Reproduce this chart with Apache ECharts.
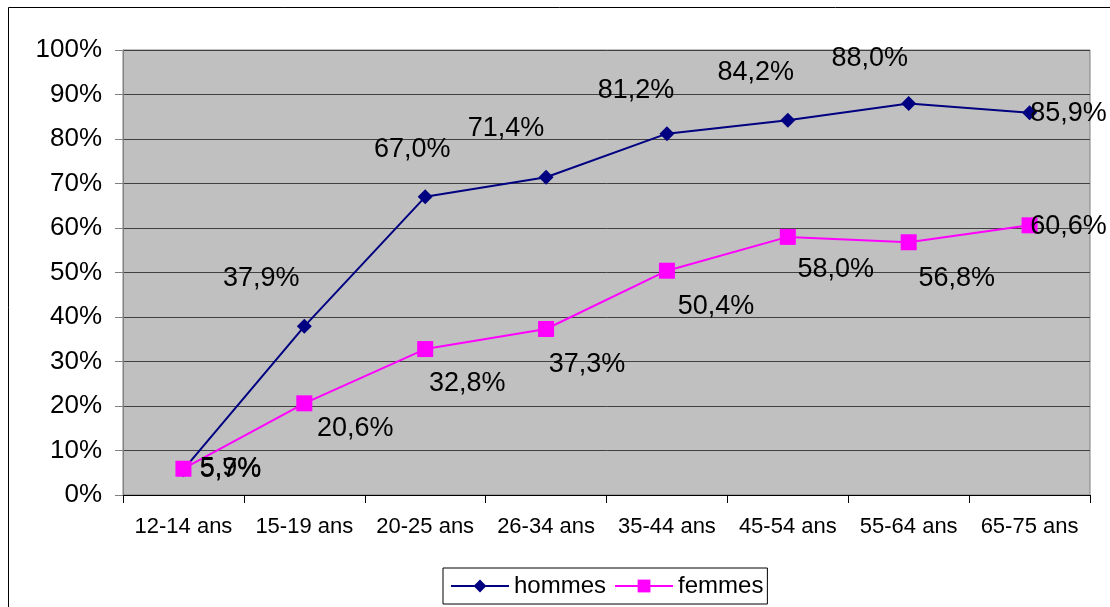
<!DOCTYPE html>
<html>
<head>
<meta charset="utf-8">
<script src="https://cdn.jsdelivr.net/npm/echarts@6/dist/echarts.min.js"></script>
<style>html,body{margin:0;padding:0;background:#fff;}#c{width:1110px;height:607px;}</style>
</head>
<body>
<div id="c"></div>
<script>
const categories = ['12-14 ans','15-19 ans','20-25 ans','26-34 ans','35-44 ans','45-54 ans','55-64 ans','65-75 ans'];
const hommes = [5.7, 37.9, 67.0, 71.4, 81.2, 84.2, 88.0, 85.9];
const femmes = [5.9, 20.6, 32.8, 37.3, 50.4, 58.0, 56.8, 60.6];
const yTicks = [0,10,20,30,40,50,60,70,80,90,100];

// label placement (offsets of label centre from the point, px)
const hommesLabelOffsets = [[47,0],[-43,-48],[-13,-47],[-40,-49],[-31,-43],[-32,-48],[-39,-45],[39,1]];
const femmesLabelOffsets = [[47,0],[51,25],[42,35],[41,36],[49,36],[48,33],[48,36],[39,1]];

const fmt = v => v.toFixed(1).replace('.', ',') + '%';
const FONT = '"Liberation Sans", Arial, sans-serif';

function build(values, offsets) {
  return values.map((v, i) => ({
    value: v,
    label: { offset: offsets[i] }
  }));
}

const chart = echarts.init(document.getElementById('c'), null, {renderer: 'canvas'});
chart.setOption({
  animation: false,
  backgroundColor: '#ffffff',
  textStyle: { fontFamily: FONT },
  graphic: [{
    type: 'rect', z: 100, silent: true,
    shape: { x: 8.5, y: 7.5, width: 1200, height: 700 },
    style: { fill: 'none', stroke: '#000', lineWidth: 1 }
  }],
  grid: {
    left: 123, right: 20, top: 50, bottom: 112,
    show: true, backgroundColor: '#C0C0C0', borderColor: '#808080', borderWidth: 1
  },
  legend: {
    left: 443, top: 568,
    padding: [6, 4, 6, 7],
    borderColor: '#000', borderWidth: 1,
    itemWidth: 58, itemHeight: 16, itemGap: 8,
    textStyle: { fontSize: 24, color: '#000', fontFamily: FONT },
    data: ['hommes', 'femmes']
  },
  xAxis: {
    type: 'category',
    data: categories,
    boundaryGap: true,
    axisLine: { show: true, lineStyle: { color: '#000', width: 1 } },
    axisTick: { show: true, interval: 0, length: 8, lineStyle: { color: '#000' } },
    axisLabel: { interval: 0, margin: 21, fontSize: 22, color: '#000', fontFamily: FONT },
    splitLine: { show: false }
  },
  yAxis: {
    type: 'value',
    min: yTicks[0], max: yTicks[yTicks.length - 1], interval: 10,
    axisLine: { show: true, lineStyle: { color: '#808080', width: 1 } },
    axisTick: { show: true, length: 8, lineStyle: { color: '#808080' } },
    axisLabel: { margin: 21, fontSize: 26, color: '#000', fontFamily: FONT, formatter: '{value}%' },
    splitLine: { show: true, lineStyle: { color: '#404040', width: 1 } }
  },
  series: [
    {
      name: 'hommes', type: 'line',
      data: build(hommes, hommesLabelOffsets),
      symbol: 'diamond', symbolSize: 15,
      lineStyle: { color: '#000080', width: 2 },
      itemStyle: { color: '#000080' },
      label: { show: true, position: 'inside', fontSize: 27, color: '#000', fontFamily: FONT,
        formatter: p => fmt(p.value) },
      z: 2
    },
    {
      name: 'femmes', type: 'line',
      data: build(femmes, femmesLabelOffsets),
      symbol: 'rect', symbolSize: 16,
      lineStyle: { color: '#FF00FF', width: 2 },
      itemStyle: { color: '#FF00FF' },
      label: { show: true, position: 'inside', fontSize: 27, color: '#000', fontFamily: FONT,
        formatter: p => fmt(p.value) },
      z: 3
    }
  ]
});
</script>
</body>
</html>
